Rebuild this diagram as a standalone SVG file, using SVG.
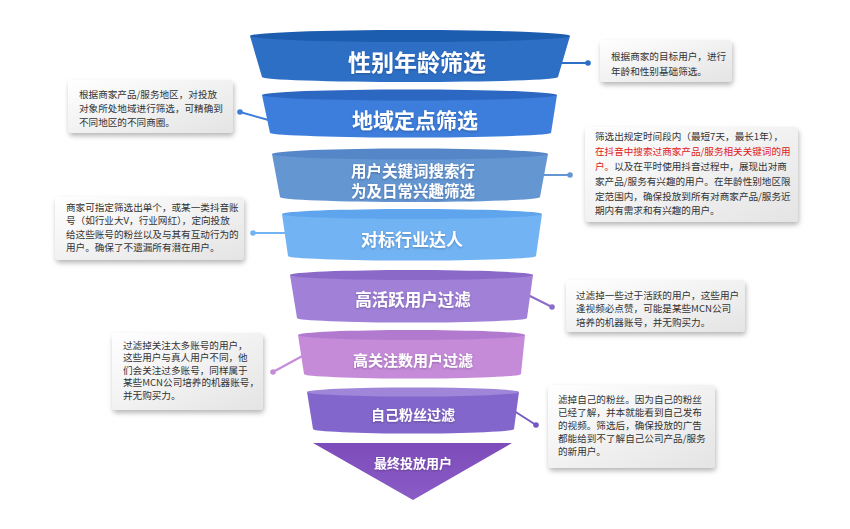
<svg xmlns="http://www.w3.org/2000/svg" width="850" height="529" viewBox="0 0 850 529">
<defs>
<linearGradient id="boxg" x1="0" y1="0" x2="1" y2="1">
<stop offset="0" stop-color="#ffffff"/>
<stop offset="1" stop-color="#e4e4e4"/>
</linearGradient>
<linearGradient id="trig" x1="0" y1="0" x2="0" y2="1">
<stop offset="0" stop-color="#7d4cba"/>
<stop offset="1" stop-color="#8a5cc6"/>
</linearGradient>
<filter id="sh" x="-20%" y="-20%" width="140%" height="150%">
<feDropShadow dx="1" dy="3" stdDeviation="2.5" flood-color="#000" flood-opacity="0.28"/>
</filter>
<filter id="tsh" x="-10%" y="-30%" width="120%" height="160%">
<feDropShadow dx="0" dy="1" stdDeviation="0.8" flood-color="#000" flood-opacity="0.25"/>
</filter>
</defs>
<style>
.box{fill:url(#boxg);filter:url(#sh);}
.bt{font-family:"Noto Sans CJK SC","Noto Sans",sans-serif;font-size:9.6px;fill:#333;}
.red{fill:#e02020;}
.ft{font-family:"Noto Sans CJK SC","Noto Sans",sans-serif;font-weight:bold;fill:#fff;text-anchor:middle;filter:url(#tsh);}
.ln{stroke-width:2;fill:none;}
</style>
<rect width="850" height="529" fill="#fff"/>

<g id="connectors">
<line class="ln" x1="558" y1="63" x2="588" y2="63" stroke="#2e6fc6"/><circle cx="588" cy="63" r="2.8" fill="#2e6fc6"/>
<line class="ln" x1="240" y1="112" x2="272" y2="121" stroke="#3d7ddc"/><circle cx="240" cy="112" r="2.8" fill="#3d7ddc"/>
<line class="ln" x1="540" y1="175" x2="570" y2="175" stroke="#6496d2"/><circle cx="570" cy="175" r="2.8" fill="#6496d2"/>
<line class="ln" x1="253" y1="233" x2="290" y2="233" stroke="#72b3f3"/><circle cx="253" cy="233" r="2.8" fill="#72b3f3"/>
<line class="ln" x1="524" y1="293" x2="552" y2="307" stroke="#8c6cca"/><circle cx="552" cy="307" r="2.8" fill="#8c6cca"/>
<line class="ln" x1="273" y1="372" x2="306" y2="354" stroke="#c58bd9"/><circle cx="273" cy="372" r="2.8" fill="#c58bd9"/>
<line class="ln" x1="511" y1="409" x2="536" y2="425" stroke="#7459c0"/><circle cx="536" cy="425" r="2.8" fill="#7459c0"/>
</g>

<g id="seg1">
<path d="M250,36 L262,77 A148,5 0 0 0 558,77 L570,36 Z" fill="#2e6fc6"/>
<ellipse cx="410" cy="36" rx="160" ry="6" fill="#1d5db0"/>
<text class="ft" x="417" y="70.7" font-size="23">性别年龄筛选</text>
</g>
<g id="seg2">
<path d="M262,95 L270,133 A141,5 0 0 0 551,133 L557,95 Z" fill="#3d7ddc"/>
<ellipse cx="409.5" cy="95" rx="147.5" ry="5.5" fill="#2c67c2"/>
<text class="ft" x="415" y="128" font-size="21">地域定点筛选</text>
</g>
<g id="seg3">
<path d="M272,154 L280,197 A130,5 0 0 0 540,197 L548,154 Z" fill="#6496d2"/>
<ellipse cx="410" cy="154" rx="138" ry="5.5" fill="#5486c8"/>
<text class="ft" x="413" y="177" font-size="15.5">用户关键词搜索行</text>
<text class="ft" x="413" y="197" font-size="15.5">为及日常兴趣筛选</text>
</g>
<g id="seg4">
<path d="M282,214 L288,256 A124,4.5 0 0 0 536,256 L542,214 Z" fill="#72b3f3"/>
<ellipse cx="412" cy="214" rx="130" ry="5" fill="#5ea5ee"/>
<text class="ft" x="412" y="245.5" font-size="17">对标行业达人</text>
</g>
<g id="seg5">
<path d="M290,275 L297,318 A115,4.5 0 0 0 527,318 L533,275 Z" fill="#a181d8"/>
<ellipse cx="411.5" cy="275" rx="121.5" ry="5" fill="#8a69c9"/>
<text class="ft" x="413" y="306" font-size="16.5">高活跃用户过滤</text>
</g>
<g id="seg6">
<path d="M298,335 L304,374 A108.5,4.5 0 0 0 521,374 L525,335 Z" fill="#c58bd9"/>
<ellipse cx="411.5" cy="335" rx="113.5" ry="5" fill="#b27acf"/>
<text class="ft" x="413" y="365.7" font-size="15">高关注数用户过滤</text>
</g>
<g id="seg7">
<path d="M307,392 L313,429 A100.5,4.5 0 0 0 514,429 L519,392 Z" fill="#8366cb"/>
<ellipse cx="413" cy="392" rx="106" ry="4.5" fill="#9f86d8"/>
<text class="ft" x="413" y="420.3" font-size="14">自己粉丝过滤</text>
</g>
<g id="seg8">
<path d="M313,443 L512,443 L413,500 Z" fill="url(#trig)"/>
<text class="ft" x="413" y="468" font-size="13">最终投放用户</text>
</g>

<g id="note1">
<rect class="box" x="600" y="40" width="132" height="42" rx="4"/>
<text class="bt" x="611" y="59.5">根据商家的目标用户，进行</text>
<text class="bt" x="611" y="74.5">年龄和性别基础筛选。</text>
</g>
<g id="note2">
<rect class="box" x="68" y="80" width="165" height="53" rx="4"/>
<text class="bt" x="79" y="97.5">根据商家产品/服务地区，对投放</text>
<text class="bt" x="79" y="111.5">对象所处地域进行筛选，可精确到</text>
<text class="bt" x="79" y="125.5">不同地区的不同商圈。</text>
</g>
<g id="note3">
<rect class="box" x="585" y="127" width="213" height="95" rx="4"/>
<text class="bt" x="595" y="139.5">筛选出规定时间段内（最短7天，最长1年），</text>
<text class="bt red" x="595" y="154.5">在抖音中搜索过商家产品/服务相关关键词的用</text>
<text class="bt" x="595" y="169.5"><tspan class="red">户。</tspan>以及在平时使用抖音过程中，展现出对商</text>
<text class="bt" x="595" y="184.5">家产品/服务有兴趣的用户。在年龄性别地区限</text>
<text class="bt" x="595" y="199.5">定范围内，确保投放到所有对商家产品/服务近</text>
<text class="bt" x="595" y="214">期内有需求和有兴趣的用户。</text>
</g>
<g id="note4">
<rect class="box" x="55" y="197" width="189" height="63" rx="4"/>
<text class="bt" x="66" y="210.5">商家可指定筛选出单个，或某一类抖音账</text>
<text class="bt" x="66" y="224">号（如行业大V，行业网红），定向投放</text>
<text class="bt" x="66" y="237.5">给这些账号的粉丝以及与其有互动行为的</text>
<text class="bt" x="66" y="251">用户。确保了不遗漏所有潜在用户。</text>
</g>
<g id="note5">
<rect class="box" x="566" y="280" width="179" height="52" rx="4"/>
<text class="bt" x="576" y="298.5">过滤掉一些过于活跃的用户，这些用户</text>
<text class="bt" x="576" y="312">逢视频必点赞，可能是某些MCN公司</text>
<text class="bt" x="576" y="325.5">培养的机器账号，并无购买力。</text>
</g>
<g id="note6">
<rect class="box" x="112" y="333" width="151" height="77" rx="4"/>
<text class="bt" x="123" y="348.5">过滤掉关注太多账号的用户，</text>
<text class="bt" x="123" y="361">这些用户与真人用户不同，他</text>
<text class="bt" x="123" y="373.5">们会关注过多账号，同样属于</text>
<text class="bt" x="123" y="386">某些MCN公司培养的机器账号，</text>
<text class="bt" x="123" y="398.5">并无购买力。</text>
</g>
<g id="note7">
<rect class="box" x="548" y="385" width="167" height="83" rx="4"/>
<text class="bt" x="558" y="402.5">滤掉自己的粉丝。因为自己的粉丝</text>
<text class="bt" x="558" y="415.5">已经了解，并本就能看到自己发布</text>
<text class="bt" x="558" y="428.5">的视频。筛选后，确保投放的广告</text>
<text class="bt" x="558" y="441.5">都能给到不了解自己公司产品/服务</text>
<text class="bt" x="558" y="454.5">的新用户。</text>
</g>
</svg>
